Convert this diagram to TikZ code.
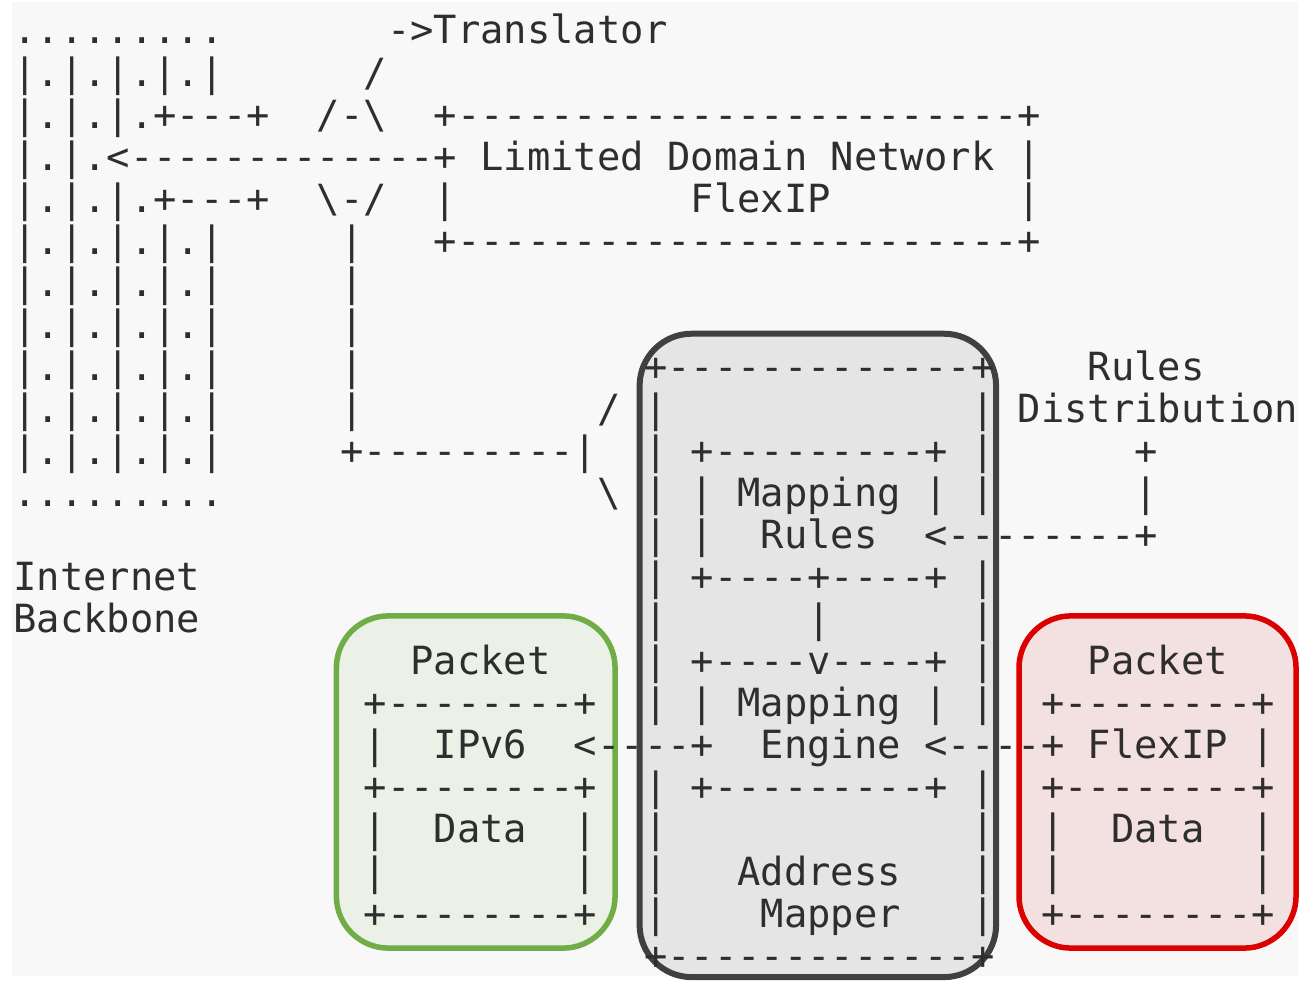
\documentclass[tikz,border=0pt]{standalone}
\usepackage{fontspec}
\setmonofont{DejaVu Sans Mono}

\definecolor{paper}{HTML}{F8F8F8}
\definecolor{ink}{HTML}{2E2E2E}
\definecolor{vsixline}{HTML}{70AD47}
\definecolor{vsixfill}{HTML}{EBF1E6}
\definecolor{mapline}{HTML}{404040}
\definecolor{mapfill}{HTML}{E5E5E5}
\definecolor{flexline}{HTML}{DD0000}
\definecolor{flexfill}{HTML}{F3E0E0}

\tikzset{
  asc/.style={anchor=base west,inner sep=0pt,outer sep=0pt,text=ink,
    font=\ttfamily\fontsize{19.4}{23}\selectfont},
  pktbox/.style={rounded corners=26pt,line width=2.75pt},
}

\begin{document}
\begin{tikzpicture}[x=11.68pt,y=-21.025pt]
  % one unit = one character cell, rows counted downwards
  \useasboundingbox (-0.569,-1.046) rectangle (55.55,22.307);
  \fill[paper] (-0.056,-0.999) rectangle (54.99,22.16);

  % highlighted blocks
  \draw[pktbox,draw=vsixline,fill=vsixfill] (13.83,13.60) rectangle (25.76,21.50);
  \draw[pktbox,draw=mapline,fill=mapfill,line width=3pt] (26.81,6.89) rectangle (42.07,22.19);
  \draw[pktbox,draw=flexline,fill=flexfill] (43.05,13.60) rectangle (54.91,21.50);

  % internet backbone
  \node[asc] (bb0) at (0,0) {.........};
  \foreach \r in {1,5,6,...,10}
    \node[asc] (bb\r) at (0,\r) {|.|.|.|.|};
  \node[asc] (bb2) at (0,2) {|.|.|.+---+};
  \node[asc] (bb3) at (0,3) {|.|.<-------------+};
  \node[asc] (bb4) at (0,4) {|.|.|.+---+};
  \node[asc] (bb11) at (0,11) {.........};
  \node[asc] (inet) at (0,13) {Internet};
  \node[asc] (bbone) at (0,14) {Backbone};

  % translator
  \node[asc] (trans) at (16,0) {->Translator};
  \node[asc] (tr1) at (15,1) {/};
  \node[asc] (tr2) at (13,2) {/-\textbackslash};
  \node[asc] (tr4) at (13,4) {\textbackslash-/};
  \foreach \r in {5,...,9}
    \node[asc] (trl\r) at (14,\r) {|};
  \node[asc] (tr10) at (14,10) {+---------|};
  \node[asc] (tr9) at (25,9) {/};
  \node[asc] (tr11) at (25,11) {\textbackslash};

  % limited domain
  \node[asc] (ld2) at (18,2) {+------------------------+};
  \node[asc] (ldn) at (20,3) {Limited Domain Network};
  \node[asc] (ld3) at (43,3) {|};
  \node[asc] (ld4l) at (18,4) {|};
  \node[asc] (ldflex) at (29,4) {FlexIP};
  \node[asc] (ld4r) at (43,4) {|};
  \node[asc] (ld5) at (18,5) {+------------------------+};

  % address mapper
  \node[asc] (mtop) at (27,8) {+-------------+};
  \foreach \r in {9,...,16,18,19,20,21}
    \node[asc] (mpl\r) at (27,\r) {|};
  \foreach \r in {9,10,11,13,14,15,16,18,19,20,21}
    \node[asc] (mpr\r) at (41,\r) {|};
  \node[asc] (mbot) at (27,22) {+-------------+};
  \node[asc] (rb10) at (29,10) {+---------+};
  \node[asc] (rb11) at (29,11) {| Mapping |};
  \node[asc] (rb12) at (29,12) {|};
  \node[asc] (rules) at (32,12) {Rules};
  \node[asc] (rb13) at (29,13) {+----+----+};
  \node[asc] (rb14) at (34,14) {|};
  \node[asc] (eb15) at (29,15) {+----v----+};
  \node[asc] (eb16) at (29,16) {| Mapping |};
  \node[asc] (engine) at (32,17) {Engine};
  \node[asc] (eb18) at (29,18) {+---------+};
  \node[asc] (addr) at (31,20) {Address};
  \node[asc] (mapr) at (32,21) {Mapper};

  % rules distribution
  \node[asc] (rd8) at (46,8) {Rules};
  \node[asc] (rd9) at (43,9) {Distribution};
  \node[asc] (rd10) at (48,10) {+};
  \node[asc] (rd11) at (48,11) {|};
  \node[asc] (rd12) at (39,12) {<--------+};

  % packet paths into the engine
  \node[asc] (v6arr) at (24,17) {<----+};
  \node[asc] (fxarr) at (39,17) {<----+};

  % ipv6 packet
  \node[asc] (v6pkt) at (17,15) {Packet};
  \node[asc] (v6a) at (15,16) {+--------+};
  \node[asc] (v6b) at (15,17) {|};
  \node[asc] (v6hdr) at (18,17) {IPv6};
  \node[asc] (v6c) at (15,18) {+--------+};
  \foreach \r in {19,20} {
    \node[asc] (v6l\r) at (15,\r) {|};
    \node[asc] (v6r\r) at (24,\r) {|};
  }
  \node[asc] (v6data) at (18,19) {Data};
  \node[asc] (v6d) at (15,21) {+--------+};

  % flexip packet
  \node[asc] (fxpkt) at (46,15) {Packet};
  \node[asc] (fxa) at (44,16) {+--------+};
  \node[asc] (fxhdr) at (46,17) {FlexIP};
  \node[asc] (fxb) at (53,17) {|};
  \node[asc] (fxc) at (44,18) {+--------+};
  \foreach \r in {19,20} {
    \node[asc] (fxl\r) at (44,\r) {|};
    \node[asc] (fxr\r) at (53,\r) {|};
  }
  \node[asc] (fxdata) at (47,19) {Data};
  \node[asc] (fxd) at (44,21) {+--------+};
\end{tikzpicture}
\end{document}
